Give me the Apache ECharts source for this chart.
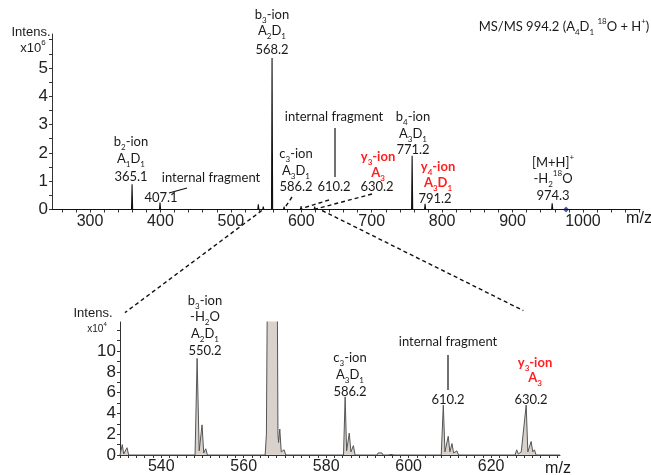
<!DOCTYPE html>
<html><head><meta charset="utf-8">
<script src="https://cdn.jsdelivr.net/npm/echarts@6/dist/echarts.min.js"></script>
<style>html,body{margin:0;padding:0;background:#fff}#c{width:651px;height:475px}</style>
</head><body><div id="c"></div>
<script>
// ---------- DATA ----------
// Top spectrum: peak positions (m/z as on axis) and intensities (x10^6)
const topPeakMz  = [276, 324, 345, 359.7, 375, 399.4, 417, 440, 480, 520, 539, 546, 558.5, 575.6, 599.7, 619, 645, 700, 736, 745, 757.4, 775.8, 844, 880, 956.3];
const topPeakInt = [0.03, 0.05, 0.04, 0.89, 0.06, 0.25, 0.04, 0.04, 0.03, 0.04, 0.18, 0.1, 5.35, 0.1, 0.12, 0.1, 0.04, 0.03, 0.04, 0.06, 1.9, 0.2, 0.04, 0.03, 0.22];
const precursorMz = [976];
const topXLabels = [300, 400, 500, 600, 700, 800, 900, 1000];
const topYLabels = [0, 1, 2, 3, 4, 5];
// Bottom (zoomed) profile spectrum: m/z and intensity (x10^4)
const botMz  = [530, 530.3, 530.55, 530.9, 531.3, 531.7, 532.1,
  548.2, 548.7, 549.2, 549.9, 550.3, 550.8, 551.2,
  565.2, 565.5, 565.8, 567.0, 568.1, 568.3, 568.45, 568.75, 569.1, 569.5, 569.8, 570.2,
  572.6, 572.9, 573.2,
  584.2, 584.6, 584.95, 585.6, 586.0, 586.6, 587.0,
  590.4, 590.7, 591.0, 592.3, 592.6, 592.9, 593.5, 593.8,
  595.0, 595.3, 595.7, 596.1, 596.5,
  607.9, 608.4, 608.8, 609.6, 610.0, 610.5, 610.9, 611.7, 612.1,
  625.8, 626.2, 626.6, 626.9, 627.3, 628.5, 628.9, 629.7, 630.1, 630.5, 630.9, 636.7];
const botInt = [0, 0, 1.0, 0.1, 0, 0.7, 0,
  0, 9.3, 0.4, 2.9, 0.2, 0.6, 0,
  0, 2, 20, 535, 20, 2, 1.2, 2.5, 0.3, 0.2, 0.5, 0,
  0, 0.15, 0,
  0, 5.6, 0.4, 2.1, 0.3, 0.9, 0,
  0, 0.15, 0, 0, 0.2, 0.05, 0.2, 0,
  0, 0.15, 0.05, 0.2, 0,
  0, 4.8, 0.3, 1.8, 0.3, 1.1, 0.2, 0.4, 0,
  0, 0.5, 0.1, 0.1, 0.3, 4.8, 0.3, 1.3, 0.3, 0.5, 0, 0];
const botXLabels = [540, 560, 580, 600, 620];
const botYLabels = [0, 2, 4, 6, 8, 10];

// ---------- LAYOUT / STYLE ----------
const FONT_AX = "'Liberation Sans Narrow','Arial Narrow','Liberation Sans',Arial,sans-serif";
const FONT_TX = "Lato,'Open Sans',sans-serif";
const TOP_X = [246, 1081], TOP_Y = [0, 6.2];
const BOT_X = [530, 636.7], BOT_Y = [0, 12.8];
const PEAK_HW = 0.8;

function range(a, b, s) { const r = []; for (let v = a; v <= b + 1e-9; v += s) r.push(+v.toFixed(4)); return r; }
const topLine = [[TOP_X[0], 0]];
topPeakMz.forEach((m, i) => { topLine.push([m - PEAK_HW, 0], [m, topPeakInt[i]], [m + PEAK_HW, 0]); });
topLine.push([TOP_X[1], 0]);
const botLine = botMz.map((m, i) => [m, botInt[i]]);

const axCol = '#333';
function xAxisCfg(grid, ext, labels, ticks) {
  return { type: 'value', gridIndex: grid, min: ext[0], max: ext[1],
    axisLine: { onZero: false, lineStyle: { color: axCol, width: 1 } },
    axisTick: { show: true, customValues: ticks, length: 3, lineStyle: { color: axCol } },
    axisLabel: { customValues: labels, formatter: v => String(v), fontSize: 16, color: '#222', fontFamily: FONT_AX, margin: 4 },
    splitLine: { show: false } };
}
function yAxisCfg(grid, ext, labels, ticks) {
  return { type: 'value', gridIndex: grid, min: ext[0], max: ext[1],
    axisLine: { show: true, lineStyle: { color: axCol, width: 1 } },
    axisTick: { show: true, customValues: ticks, length: 3, lineStyle: { color: axCol } },
    axisLabel: { customValues: labels, formatter: v => String(v), fontSize: 17, color: '#222', fontFamily: FONT_AX, margin: 4 },
    splitLine: { show: false } };
}

const chart = echarts.init(document.getElementById('c'));
chart.setOption({
  animation: false,
  grid: [
    { left: 52, top: 34, width: 588, height: 175.5 },
    { left: 120, top: 322, width: 440, height: 137 }
  ],
  xAxis: [
    xAxisCfg(0, TOP_X, topXLabels, range(260, 1080, 20)),
    xAxisCfg(1, BOT_X, botXLabels, range(530, 636, 2))
  ],
  yAxis: [
    yAxisCfg(0, TOP_Y, topYLabels, range(0, 6, 0.5)),
    yAxisCfg(1, BOT_Y, botYLabels, range(0, 12, 1))
  ],
  series: [
    { type: 'line', xAxisIndex: 0, yAxisIndex: 0, data: topLine, showSymbol: false, symbol: 'none',
      lineStyle: { color: '#111', width: 1.1 }, clip: true },
    { type: 'scatter', xAxisIndex: 0, yAxisIndex: 0, data: precursorMz.map(m => [m, 0]), symbol: 'diamond',
      symbolSize: 6, itemStyle: { color: '#2a3580' } },
    { type: 'line', xAxisIndex: 1, yAxisIndex: 1, data: botLine, showSymbol: false, symbol: 'none',
      lineStyle: { color: '#555', width: 1 }, areaStyle: { color: '#d9d2cc', opacity: 1 }, clip: true }
  ]
});

// ---------- ANNOTATIONS ----------
function rich(color, bold, size) {
  const fw = bold ? 'bold' : 'normal';
  return {
    n: { fill: color, fontSize: size, fontFamily: FONT_TX, fontWeight: fw, lineHeight: size + 6, verticalAlign: 'middle' },
    s: { fill: color, fontSize: Math.round(size * 0.62), fontFamily: FONT_TX, fontWeight: fw, lineHeight: Math.round(size * 0.62), verticalAlign: 'bottom' },
    p: { fill: color, fontSize: Math.round(size * 0.62), fontFamily: FONT_TX, fontWeight: fw, lineHeight: Math.round(size * 0.62), verticalAlign: 'top' }
  };
}
function T(x, y, text, opt) {
  opt = opt || {};
  const color = opt.color || '#1a1a1a', size = opt.size || 13;
  const r = rich(color, opt.bold, size);
  if (opt.font) { ['n', 's', 'p'].forEach(k => r[k].fontFamily = opt.font); }
  return { type: 'text', x: x, y: y, silent: true,
    style: { text: text, rich: r, align: opt.align || 'center', verticalAlign: 'middle', fill: color } };
}
function L(x1, y1, x2, y2, dashed) {
  return { type: 'line', silent: true, shape: { x1, y1, x2, y2 },
    style: { stroke: '#111', lineWidth: dashed ? 1.4 : 1.2, lineDash: dashed ? [4, 3] : null } };
}
const RED = '#ff1f1f';
const g = [];
// top panel
g.push(T(31, 32, '{n|Intens.}', { font: FONT_AX, size: 13 }));
g.push(T(33, 48, '{n|x10}{p|6}', { font: FONT_AX, size: 13 }));
g.push(T(639, 219, '{n|m/z}', { font: FONT_AX, size: 16 }));
g.push(T(564, 27, '{n|MS/MS 994.2 (A}{s|4}{n|D}{s|1}{n| }{p|18}{n|O + H}{p|+}{n|)}'));
g.push(T(272, 15, '{n|b}{s|3}{n|-ion}'), T(272, 31, '{n|A}{s|2}{n|D}{s|1}'), T(272, 50, '{n|568.2}'));
g.push(T(131, 142, '{n|b}{s|2}{n|-ion}'), T(131, 159, '{n|A}{s|1}{n|D}{s|1}'), T(131, 177, '{n|365.1}'));
g.push(T(211, 178, '{n|internal fragment}'), T(161, 198, '{n|407.1}'), L(169, 193, 187, 188));
g.push(T(296, 154, '{n|c}{s|3}{n|-ion}'), T(296, 171, '{n|A}{s|3}{n|D}{s|1}'), T(296, 187, '{n|586.2}'), L(292, 197, 284, 209, true));
g.push(T(334, 117, '{n|internal fragment}'), L(335, 128, 335, 177), T(334, 187, '{n|610.2}'), L(329, 200, 300, 209, true));
g.push(T(378, 157, '{n|y}{s|3}{n|-ion}', { color: RED, bold: true }), T(378, 173, '{n|A}{s|3}', { color: RED, bold: true }), T(377, 187, '{n|630.2}'), L(372, 194, 312, 210, true));
g.push(T(413, 117, '{n|b}{s|4}{n|-ion}'), T(413, 134, '{n|A}{s|3}{n|D}{s|1}'), T(413, 150, '{n|771.2}'));
g.push(T(438, 167, '{n|y}{s|4}{n|-ion}', { color: RED, bold: true }), T(438, 183, '{n|A}{s|3}{n|D}{s|1}', { color: RED, bold: true }), T(435, 199, '{n|791.2}'));
g.push(T(553, 163, '{n|[M+H]}{p|+}'), T(553, 179, '{n|-H}{s|2}{p|18}{n|O}'), T(553, 196, '{n|974.3}'));
// bottom panel
g.push(T(93, 313, '{n|Intens.}', { font: FONT_AX, size: 13 }));
g.push(T(97, 329, '{n|x10}{p|4}', { font: FONT_AX, size: 10 }));
g.push(T(558, 469, '{n|m/z}', { font: FONT_AX, size: 16 }));
g.push(T(205, 301, '{n|b}{s|3}{n|-ion}'), T(205, 317, '{n|-H}{s|2}{n|O}'), T(205, 334, '{n|A}{s|2}{n|D}{s|1}'), T(205, 351, '{n|550.2}'));
g.push(T(350, 358, '{n|c}{s|3}{n|-ion}'), T(350, 375, '{n|A}{s|3}{n|D}{s|1}'), T(350, 392, '{n|586.2}'));
g.push(T(448, 342, '{n|internal fragment}'), L(448, 355, 448, 390), T(448, 400, '{n|610.2}'));
g.push(T(535, 363, '{n|y}{s|3}{n|-ion}', { color: RED, bold: true }), T(535, 378, '{n|A}{s|3}', { color: RED, bold: true }), T(531, 400, '{n|630.2}'));
// zoom connector lines, anchored in data space
const zoomFromTop = [[544, 0], [629.5, 0]];
const zoomToBot = [[531.2, 13.7], [627.8, 13.9]];
for (let i = 0; i < 2; i++) {
  const a = chart.convertToPixel({ gridIndex: 0 }, zoomFromTop[i]);
  const b = chart.convertToPixel({ gridIndex: 1 }, zoomToBot[i]);
  g.push(L(a[0], a[1] + 1, b[0], b[1], true));
}
chart.setOption({ graphic: g });
</script></body></html>
